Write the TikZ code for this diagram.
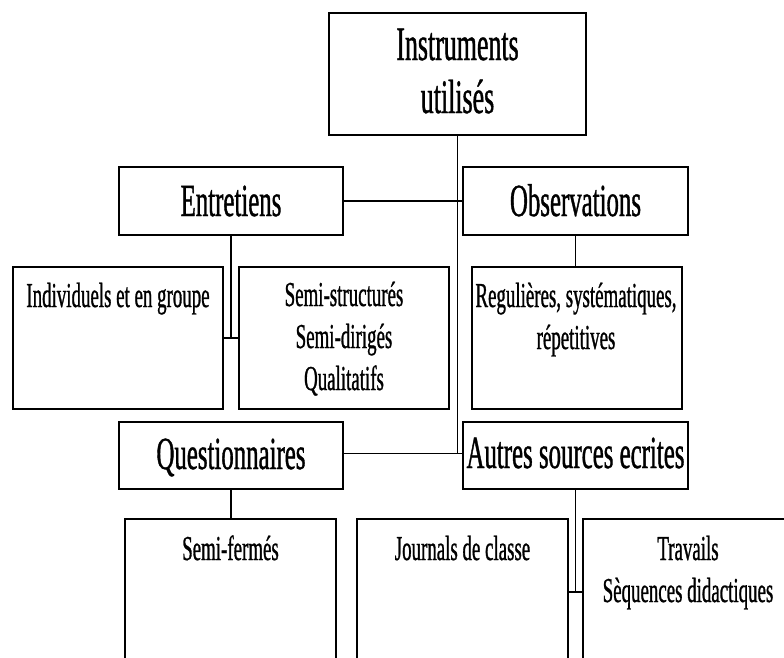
\documentclass[tikz,border=0pt]{standalone}
\usepackage{fontspec}
\newfontfamily\cond[FakeStretch=0.54,FakeBold=0.8]{Liberation Serif}
\begin{document}
\begin{tikzpicture}[x=1pt,y=-1pt,
  box/.style={draw=black, line width=2pt, rectangle, inner sep=0pt},
  link/.style={draw=black, line width=1.8pt},
  toptxt/.style={inner sep=0pt, anchor=base, font=\cond\fontsize{48}{53}\selectfont},
  hdrtxt/.style={inner sep=0pt, anchor=base, font=\cond\fontsize{46}{55}\selectfont},
  subtxt/.style={inner sep=0pt, anchor=base, font=\cond\fontsize{35}{42}\selectfont}]
\useasboundingbox (0,0) rectangle (784,657);
\fill[white] (0,0) rectangle (784,657);
\clip (0,0) rectangle (784,657);
% boxes
\node[box, minimum width=257pt, minimum height=122pt] (top) at (457.5,74) {};
\node[box, minimum width=224pt, minimum height=68pt] (ent) at (231,201) {};
\node[box, minimum width=225pt, minimum height=68pt] (obs) at (575.5,201) {};
\node[box, minimum width=210pt, minimum height=142pt] (ind) at (118,338) {};
\node[box, minimum width=210pt, minimum height=142pt] (semi) at (344,338) {};
\node[box, minimum width=210pt, minimum height=142pt] (reg) at (577,338) {};
\node[box, minimum width=224pt, minimum height=67pt] (que) at (231,455.5) {};
\node[box, minimum width=225pt, minimum height=67pt] (aut) at (575.5,455.5) {};
\node[box, minimum width=211pt, minimum height=146pt] (fer) at (230.5,592) {};
\node[box, minimum width=211pt, minimum height=146pt] (jou) at (462.5,592) {};
\node[box, minimum width=210pt, minimum height=146pt] (tra) at (688,592) {};
% texts
\node[toptxt] (ttop) at (457.5,60) {\begin{tabular}[t]{@{}c@{}}Instruments\\utilisés\end{tabular}};
\node[hdrtxt] (tent) at (231,216) {Entretiens};
\node[hdrtxt] (tobs) at (575.5,216) {Observations};
\node[subtxt] (tind) at (118,307) {Individuels et en groupe};
\node[subtxt] (tsemi) at (344,306) {\begin{tabular}[t]{@{}c@{}}Semi-structurés\\Semi-dirigés\\Qualitatifs\end{tabular}};
\node[subtxt] (treg) at (576,307) {\begin{tabular}[t]{@{}c@{}}Regulières, systématiques,\\répetitives\end{tabular}};
\node[hdrtxt] (tque) at (231,469) {Questionnaires};
\node[hdrtxt] (taut) at (575.5,468) {Autres sources ecrites};
\node[subtxt] (tfer) at (230.5,560) {Semi-fermés};
\node[subtxt] (tjou) at (462.5,560) {Journals de classe};
\node[subtxt] (ttra) at (688,560) {\begin{tabular}[t]{@{}c@{}}Travails\\Sèquences didactiques\end{tabular}};
% connectors
\coordinate (qe) at ([yshift=2pt]que.east);
\coordinate (aw) at ([yshift=2pt]aut.west);
\draw[link] (ent.east) -- (obs.west);
\draw[link] (qe) -- (aw);
\draw[link] (top.south) -- (top.south |- qe);
\draw[link] (ent.south) -- (ent.south |- ind.east);
\draw[link] (ind.east) -- (semi.west);
\draw[link] (obs.south) -- (obs.south |- reg.north);
\draw[link] (que.south) -- (que.south |- fer.north);
\draw[link] (aut.south) -- (aut.south |- jou.east);
\draw[link] (jou.east) -- (tra.west);
\end{tikzpicture}
\end{document}
